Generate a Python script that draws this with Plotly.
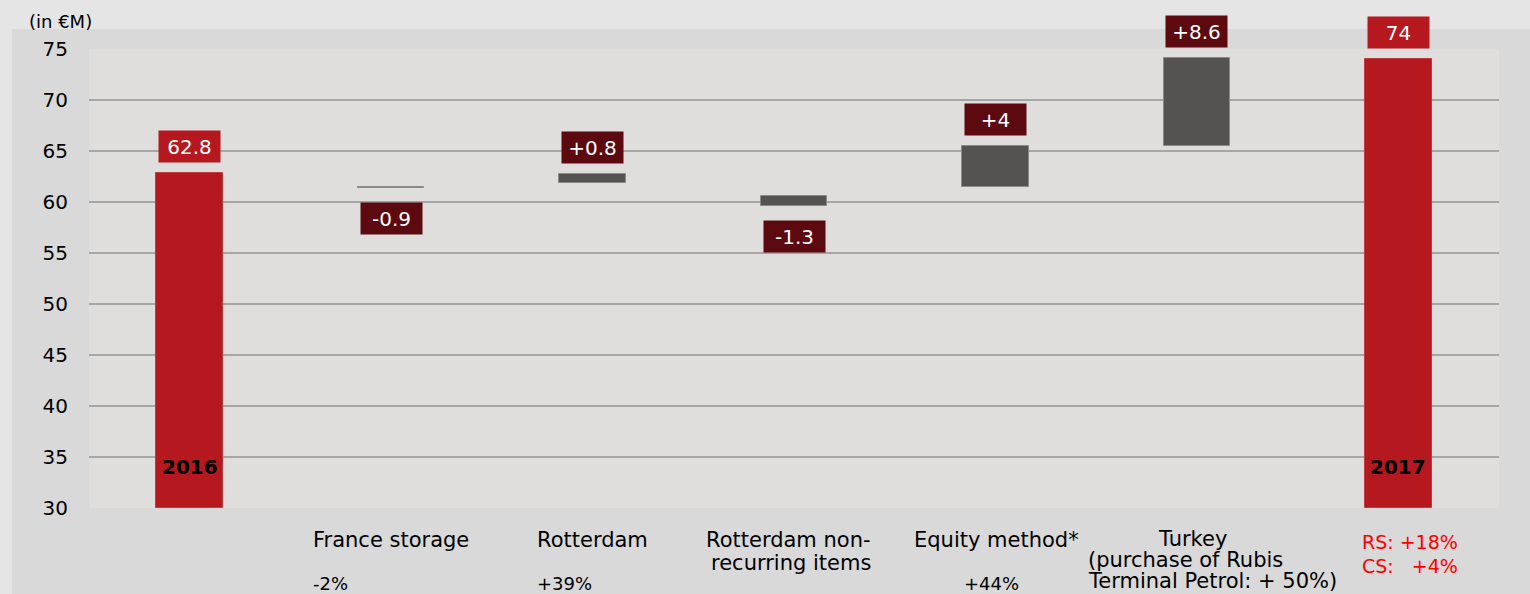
import plotly.graph_objects as go

# ---------------- data ----------------
categories = ["2016", "France storage", "Rotterdam", "Rotterdam non-recurring items",
              "Equity method*", "Turkey (purchase of Rubis Terminal Petrol: + 50%)", "2017"]
bar_base = [30.0, 61.35, 61.9, 59.6, 61.5, 65.5, 30.0]
bar_top = [62.8, 61.45, 62.7, 60.6, 65.5, 74.1, 74.0]
value_labels = ["62.8", "-0.9", "+0.8", "-1.3", "+4", "+8.6", "74"]
bar_kind = ["total", "decrease", "increase", "decrease", "increase", "increase", "total"]
growth_labels = ["", "-2%", "+39%", "", "+44%", "", ""]
year_labels = ["2016", "", "", "", "", "", "2017"]
category_lines = [[], ["France storage"], ["Rotterdam"], ["Rotterdam non-", "recurring items"],
                  ["Equity method*"], ["Turkey", "(purchase of Rubis", "Terminal Petrol: + 50%)"], []]
total_notes = ["RS: +18%", "CS:\u00a0\u00a0\u00a0+4%"]
tick_values = [30, 35, 40, 45, 50, 55, 60, 65, 70, 75]

# ---------------- style ----------------
FONT = "DejaVu Sans"
RED = "#b5181e"
DARK_RED = "#5c0a0f"
GREY = "#545351"
W, H = 1530, 594
L, R, T, B = 89, 31, 49, 86
PW, PH = W - L - R, H - T - B


def px_x(px):
    return (px - L) / PW


def px_y(py):
    return (H - B - py) / PH


x_idx = list(range(len(categories)))
heights = [t - b for t, b in zip(bar_top, bar_base)]
colors = [RED if k == "total" else GREY for k in bar_kind]
line_colors = ["#c0393d" if k == "total" else "#8a8a8a" for k in bar_kind]

fig = go.Figure()
fig.add_trace(go.Bar(
    x=x_idx, y=heights, base=bar_base, width=0.33,
    marker=dict(color=colors, line=dict(color=line_colors, width=1)),
    hovertext=categories, showlegend=False,
))

annotations = []
# value label boxes
for i, (lab, kind) in enumerate(zip(value_labels, bar_kind)):
    neg = kind == "decrease"
    annotations.append(dict(
        x=i, y=bar_base[i] if neg else bar_top[i], xref="x", yref="y",
        text=lab, showarrow=False,
        yanchor="top" if neg else "bottom", yshift=-14 if neg else 10,
        bgcolor=RED if kind == "total" else DARK_RED,
        width=57, height=27, borderpad=2,
        font=dict(family=FONT, size=20, color="white"),
    ))
# year labels inside total bars
for i, yl in enumerate(year_labels):
    if yl:
        annotations.append(dict(
            x=i, y=34, xref="x", yref="y", text="<b>%s</b>" % yl, showarrow=False,
            font=dict(family=FONT, size=20, color="black"),
        ))

# category labels
cat_layout = {
    1: [(0, 540, "center")],
    2: [(0, 540, "center")],
    3: [(-6, 540, "center"), (-3, 563, "center")],
    4: [(1, 540, "center")],
    5: [(-4, 539, "center"), (-111, 560, "left"), (-111, 581, "left")],
}
for i, lines in enumerate(category_lines):
    for j, line in enumerate(lines):
        dx, py, anchor = cat_layout[i][j]
        annotations.append(dict(
            x=i, y=px_y(py), xref="x", yref="paper", text=line, showarrow=False,
            xanchor=anchor, yanchor="middle", xshift=dx,
            font=dict(family=FONT, size=21, color="black"),
        ))

# growth labels
growth_shift = {1: -61, 2: -28, 4: -4}
for i, g in enumerate(growth_labels):
    if g:
        annotations.append(dict(
            x=i, y=px_y(583), xref="x", yref="paper", text=g, showarrow=False,
            xanchor="center", yanchor="middle", xshift=growth_shift[i],
            font=dict(family=FONT, size=18, color="black"),
        ))

# RS / CS notes
for j, note in enumerate(total_notes):
    annotations.append(dict(
        x=6, y=px_y(542 + 24 * j), xref="x", yref="paper", text=note, showarrow=False,
        xanchor="left", yanchor="middle", xshift=-38,
        font=dict(family=FONT, size=19, color="#ff0000"),
    ))

# unit label
annotations.append(dict(
    x=px_x(27), y=px_y(21), xref="paper", yref="paper", text="(in €M)", showarrow=False,
    xanchor="left", yanchor="middle",
    font=dict(family=FONT, size=18, color="black"),
))

shapes = [
    dict(type="rect", xref="paper", yref="paper", layer="below",
         x0=px_x(12), x1=px_x(W + 5), y0=px_y(H + 5), y1=px_y(29),
         fillcolor="#d9d9d9", line=dict(width=0)),
    dict(type="rect", xref="paper", yref="paper", layer="below",
         x0=0, x1=1, y0=0, y1=1, fillcolor="#dfdedc", line=dict(width=0)),
]

fig.update_layout(
    width=W, height=H,
    margin=dict(l=L, r=R, t=T, b=B, pad=0),
    paper_bgcolor="#e5e5e5", plot_bgcolor="rgba(0,0,0,0)",
    font=dict(family=FONT, size=20, color="black"),
    xaxis=dict(range=[-0.5, len(categories) - 0.5], showticklabels=False, showgrid=False,
               zeroline=False, showline=False, fixedrange=True),
    yaxis=dict(range=[30, 75], tickvals=tick_values, showgrid=True, gridcolor="#a6a6a6",
               gridwidth=2, zeroline=False, showline=False, ticks="", ticklabelstandoff=20,
               tickfont=dict(family=FONT, size=20, color="black")),
    annotations=annotations, shapes=shapes,
    bargap=0,
)

fig.write_html(
    "out.html",
    config={"displayModeBar": False},
    post_script="document.body.style.margin='0';document.body.style.overflow='hidden';"
                "document.body.style.background='#e5e5e5';",
)
